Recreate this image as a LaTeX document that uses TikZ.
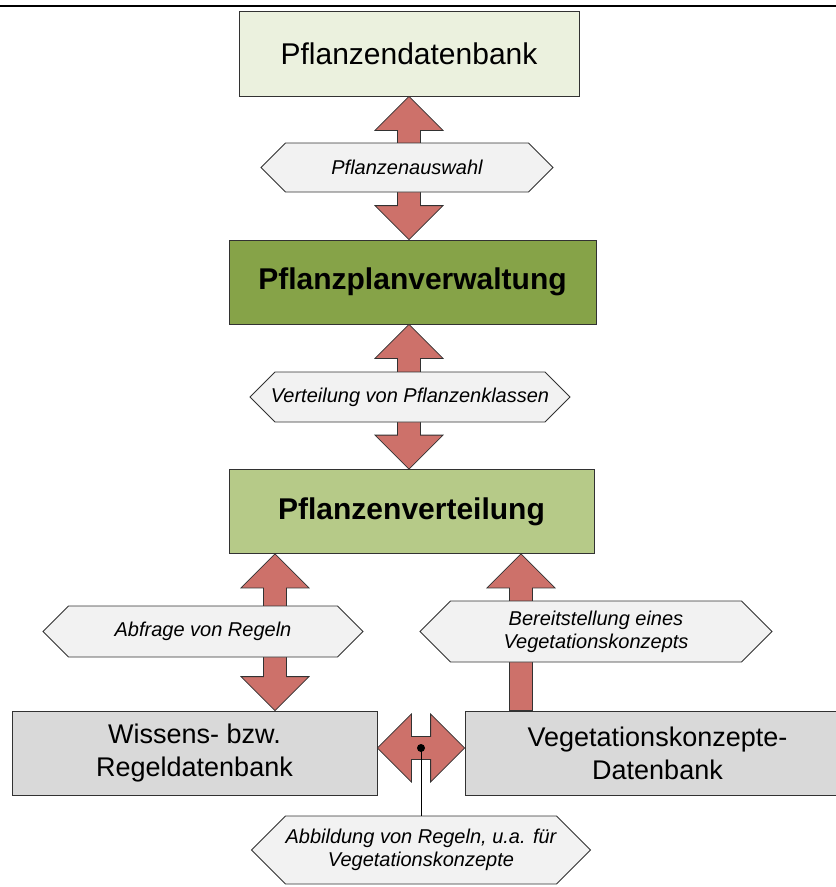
\documentclass[tikz,border=0pt]{standalone}
\usepackage{fontspec}
\setmainfont{Liberation Sans}
\usepackage{tikz}
\usetikzlibrary{calc}
\usetikzlibrary{shapes.symbols}
\definecolor{Box-1}{RGB}{235,241,222}
\definecolor{Box-2}{RGB}{134,163,72}
\definecolor{Box-3}{RGB}{182,202,136}
\definecolor{Box-4}{RGB}{217,217,217}
\definecolor{Hex-1}{RGB}{242,242,242}
\definecolor{Arrow-1}{RGB}{205,113,106}
\definecolor{Edge-1}{RGB}{50,50,50}

% block arrows, tip to tip
\newcommand{\biarrowV}[2]{\draw[blockarrow] let \p1=(#1), \p2=(#2) in
    (\x1,\y1) -- (\x1+34pt,\y1-34pt) -- (\x1+11.5pt,\y1-34pt) -- (\x1+11.5pt,\y2+34pt) -- (\x1+34pt,\y2+34pt) -- (\x1,\y2)
    -- (\x1-34pt,\y2+34pt) -- (\x1-11.5pt,\y2+34pt) -- (\x1-11.5pt,\y1-34pt) -- (\x1-34pt,\y1-34pt) -- cycle;}
\newcommand{\uparrowV}[2]{\draw[blockarrow] let \p1=(#1), \p2=(#2) in
    (\x1,\y1) -- (\x1+34pt,\y1-34pt) -- (\x1+11.5pt,\y1-34pt) -- (\x1+11.5pt,\y2)
    -- (\x1-11.5pt,\y2) -- (\x1-11.5pt,\y1-34pt) -- (\x1-34pt,\y1-34pt) -- cycle;}
\newcommand{\biarrowH}[2]{\draw[blockarrow] let \p1=(#1), \p2=(#2) in
    (\x1,\y1) -- (\x1+34pt,\y1+34pt) -- (\x1+34pt,\y1+11.5pt) -- (\x2-34pt,\y1+11.5pt) -- (\x2-34pt,\y1+34pt) -- (\x2,\y1)
    -- (\x2-34pt,\y1-34pt) -- (\x2-34pt,\y1-11.5pt) -- (\x1+34pt,\y1-11.5pt) -- (\x1+34pt,\y1-34pt) -- cycle;}

\begin{document}
\begin{tikzpicture}[x=1pt,y=-1pt]
    \path[use as bounding box] (0,0) rectangle (836,887);

    \tikzset{ box/.style ={draw=Edge-1, line width=0.8pt, minimum width=365pt, minimum height=84pt, align=center, inner sep=0pt, font=\fontsize{27}{33}\selectfont} }
    \tikzset{ big/.style ={font=\fontsize{30}{36}\selectfont} }
    \tikzset{ bigbold/.style ={font=\fontsize{30}{36}\selectfont\bfseries} }
    \tikzset{ hex/.style ={signal, signal to=east and west, signal pointer angle=90, draw=Edge-1, fill=Hex-1, line width=0.8pt, align=center, inner sep=0pt, font=\fontsize{20}{23}\selectfont\itshape} }
    \tikzset{ blockarrow/.style ={draw=Edge-1, fill=Arrow-1, line width=0.8pt, line join=miter} }

    \draw[line width=2.5pt] (0,6) -- (836,6);

    \node[box, big, fill=Box-1, minimum width=340pt, minimum height=85pt] (pdb) at (409.0,  53.5) {Pflanzendatenbank};
    \node[box, bigbold, fill=Box-2, minimum width=367pt]                  (ppv) at (412.5, 282.0) {Pflanzplanverwaltung};
    \node[box, bigbold, fill=Box-3]                                       (pvt) at (411.5, 511.5) {Pflanzenverteilung};
    \node[box, fill=Box-4]                                                (wdb) at (194.5, 753.0) {Wissens- bzw.\\Regeldatenbank};
    \node[box, fill=Box-4, minimum width=385pt]                           (vdb) at (657.5, 753.0) {Vegetationskonzepte-\\Datenbank};

    \coordinate (left)  at (275.0,   0.0);
    \coordinate (right) at (521.0,   0.0);
    \coordinate (mid)   at (421.0, 748.0);

    \biarrowV{pdb.south}{ppv.north -| pdb.south}
    \biarrowV{ppv.south -| pdb.south}{pvt.north -| pdb.south}
    \biarrowV{pvt.south -| left}{wdb.north -| left}
    \uparrowV{pvt.south -| right}{vdb.north -| right}
    \biarrowH{wdb.east |- mid}{vdb.west |- mid}

    \node[hex, minimum width=292pt, minimum height=49pt] (h1) at (407.0, 167.5) {Pflanzenauswahl};
    \node[hex, minimum width=320pt, minimum height=50pt, inner xsep=-12pt] (h2) at (410.0, 397.0) {Verteilung von Pflanzenklassen};
    \node[hex, minimum width=320pt, minimum height=51pt] (h3) at (203.0, 631.5) {Abfrage von Regeln};
    \node[hex, minimum width=352pt, minimum height=61pt] (h4) at (596.0, 631.5) {Bereitstellung eines\\Vegetationskonzepts};
    \node[hex, minimum width=320pt, minimum height=68pt] (h5) at (421.0, 850.0) {Abbildung von Regeln, u.a. für\\Vegetationskonzepte};

    \fill (mid) circle (4pt);
    \draw[line width=0.8pt] (mid) -- (h5.north);

  \end{tikzpicture}
\end{document}
